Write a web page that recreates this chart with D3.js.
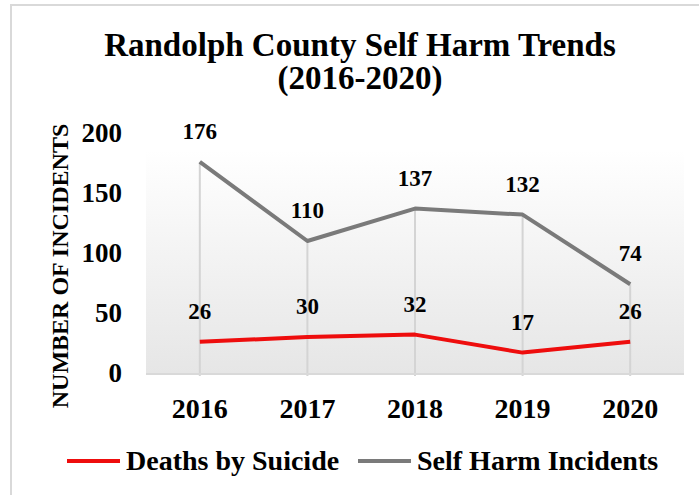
<!DOCTYPE html>
<html><head><meta charset="utf-8">
<script src="https://cdn.jsdelivr.net/npm/d3@7"></script>
<style>body{margin:0;background:#fff}svg{display:block}</style>
</head><body>
<script>
const years = ["2016","2017","2018","2019","2020"];
const deaths = [26, 30, 32, 17, 26];
const selfHarm = [176, 110, 137, 132, 74];
const yTicks = [0, 50, 100, 150, 200];
const seriesNames = ["Deaths by Suicide", "Self Harm Incidents"];
const seriesColors = ["#ee0d0d", "#7a7a7a"];

const W = 699, H = 495;
const svg = d3.select("body").append("svg").attr("width", W).attr("height", H);
const font = "'Liberation Serif','Times New Roman',serif";

// border
svg.append("path").attr("d", `M11,${H} V5 H${W}`).attr("fill","none").attr("stroke","#d9d9d9").attr("stroke-width",2);

const x = d3.scaleBand().domain(years).range([146, 684]);
const y = d3.scaleLinear().domain([0, 200]).range([373, 133]);

const defs = svg.append("defs");
const g = defs.append("linearGradient").attr("id","bg").attr("x1",0).attr("y1",0).attr("x2",0).attr("y2",1);
g.append("stop").attr("offset","0").attr("stop-color","#ffffff");
g.append("stop").attr("offset","1").attr("stop-color","#e6e6e6");
svg.append("rect").attr("x",146).attr("y",150).attr("width",538).attr("height",223).attr("fill","url(#bg)");

// vertical gridlines
svg.append("g").selectAll("line").data(years).join("line")
  .attr("x1", d => x(d)+x.bandwidth()/2).attr("x2", d => x(d)+x.bandwidth()/2)
  .attr("y1", (d,i) => y(selfHarm[i])).attr("y2", 376)
  .attr("stroke","#d4d4d4").attr("stroke-width",2);

// axis line
svg.append("line").attr("x1",146).attr("x2",684).attr("y1",374).attr("y2",374).attr("stroke","#d9d9d9").attr("stroke-width",2);

// y tick labels
svg.append("g").selectAll("text").data(yTicks).join("text")
  .attr("x",122).attr("y", d => y(d)+9).attr("text-anchor","end")
  .attr("font-family",font).attr("font-weight","bold").attr("font-size",27).text(d => d);

// x tick labels
svg.append("g").selectAll("text").data(years).join("text")
  .attr("x", d => x(d)+x.bandwidth()/2).attr("y",418).attr("text-anchor","middle")
  .attr("font-family",font).attr("font-weight","bold").attr("font-size",28).text(d => d);

// y title
svg.append("text").attr("transform","translate(68,266) rotate(-90)").attr("text-anchor","middle")
  .attr("font-family",font).attr("font-weight","bold").attr("font-size",24).text("NUMBER OF INCIDENTS");

// title
const t = svg.append("text").attr("text-anchor","middle").attr("font-family",font).attr("font-weight","bold").attr("font-size",33);
t.append("tspan").attr("x",360).attr("y",56).text("Randolph County Self Harm Trends");
t.append("tspan").attr("x",360).attr("y",89).text("(2016-2020)");

const line = d3.line().x((d,i) => x(years[i])+x.bandwidth()/2).y(d => y(d));
[deaths, selfHarm].forEach((vals, k) => {
  svg.append("path").datum(vals).attr("d", line).attr("fill","none")
    .attr("stroke", seriesColors[k]).attr("stroke-width",4).attr("stroke-linejoin","round");
  svg.append("g").selectAll("text").data(vals).join("text")
    .attr("x",(d,i) => x(years[i])+x.bandwidth()/2).attr("y", d => y(d)-23)
    .attr("text-anchor","middle").attr("font-family",font).attr("font-weight","bold").attr("font-size",23)
    .text(d => d);
});

// legend
const legX = [67, 358];
seriesNames.forEach((n,k) => {
  svg.append("line").attr("x1",legX[k]).attr("x2",legX[k]+53).attr("y1",461).attr("y2",461)
    .attr("stroke",seriesColors[k]).attr("stroke-width",4);
  svg.append("text").attr("x",legX[k]+59).attr("y",470).attr("font-family",font).attr("font-weight","bold")
    .attr("font-size",28).text(n);
});
</script>
</body></html>
